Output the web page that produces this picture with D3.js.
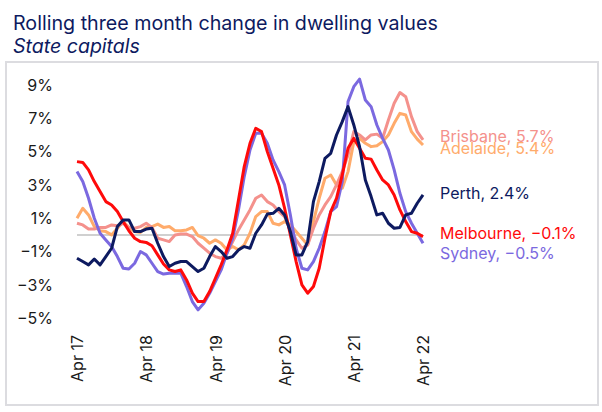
<!DOCTYPE html>
<html>
<head>
<meta charset="utf-8">
<script src="https://cdn.jsdelivr.net/npm/d3@7"></script>
<style>
  html, body { margin: 0; padding: 0; background: #fff; }
  svg { display: block; font-family: Inter, "Open Sans", sans-serif; }
</style>
</head>
<body>
<svg id="chart" width="602" height="412"></svg>
<script>
// Monthly dates Apr 2017 .. Apr 2022 (61 months), index 0..60
const months = d3.range(61);

const sydney = [3.8, 3.2, 2.2, 1.0, 0.1, -0.3, -0.7, -1.3, -2.0, -2.05, -1.7, -1.0, -1.2, -1.7, -2.2, -2.35,
  -2.3, -2.3, -2.3, -3.1, -4.0, -4.5, -4.1, -3.5, -2.8, -2.1, -1.1, -0.2, 1.5, 3.5, 5.1, 6.1,
  6.1, 5.5, 4.5, 3.8, 3.0, 1.2, -0.8, -2.0, -2.1, -1.6, -0.8, 0.2, 1.4, 1.7, 3.2, 8.0,
  8.9, 9.35, 8.1, 7.7, 6.6, 5.8, 5.1, 3.9, 2.5, 1.4, 0.7, 0.1, -0.5];

const melbourne = [4.4, 4.35, 3.9, 3.2, 2.6, 2.0, 1.8, 1.4, 0.8, 0.25, -0.2, -0.4, -0.45, -0.65, -1.2, -1.75,
  -2.1, -2.2, -2.1, -2.7, -3.5, -4.0, -4.0, -3.4, -2.6, -1.8, -0.9, 0.1, 2.1, 4.1, 5.5, 6.4,
  6.2, 5.0, 4.0, 3.0, 1.6, 0.0, -1.6, -3.0, -3.5, -3.1, -2.0, -0.2, 1.4, 2.2, 3.6, 5.2,
  5.8, 5.2, 4.6, 4.55, 3.9, 3.3, 3.0, 2.4, 1.5, 0.8, 0.2, 0.1, -0.1];

const perth = [-1.4, -1.6, -1.8, -1.45, -1.8, -1.3, -0.8, 0.5, 0.9, 0.9, 0.2, 0.2, 0.35, 0.4, -0.5, -1.3,
  -1.9, -1.7, -1.6, -1.6, -1.9, -2.2, -2.0, -1.3, -0.7, -1.0, -1.4, -1.3, -0.9, -0.7, -0.8, 0.1,
  0.6, 1.25, 1.3, 1.6, 1.2, 0.2, -1.2, -1.2, -0.4, 2.0, 3.2, 4.6, 4.9, 6.0, 6.8, 7.7,
  6.6, 5.3, 3.3, 2.3, 1.2, 1.3, 0.7, 0.4, 0.45, 1.2, 1.3, 1.9, 2.4];

const brisbane = [0.7, 0.6, 0.35, 0.35, 0.45, 0.45, 0.6, 0.55, 0.7, 0.45, 0.4, 0.5, 0.7, 0.45, -0.2, -0.3,
  -0.4, 0.0, 0.05, 0.05, -0.1, -0.5, -0.8, -1.1, -1.3, -1.4, -1.1, -0.4, 0.3, 0.9, 1.5, 2.2,
  2.4, 2.0, 1.8, 1.4, 1.1, 0.4, -0.3, -0.8, -0.6, 0.4, 1.2, 1.8, 2.3, 3.0, 3.8, 4.8,
  6.2, 6.0, 5.7, 6.0, 6.05, 5.8, 6.9, 7.9, 8.55, 8.3, 7.1, 6.2, 5.7];

const adelaide = [1.0, 1.6, 1.2, 0.5, 0.25, 0.2, 0.0, 0.4, 0.8, 0.45, 0.2, 0.15, 0.45, 0.5, 0.65, 0.45,
  0.5, 0.25, 0.25, 0.3, 0.45, -0.05, -0.2, -0.5, -0.3, -0.5, -0.9, -0.7, -0.9, -0.6, 0.1, 1.1,
  1.4, 1.4, 0.7, 0.6, 0.8, 0.6, 0.2, -0.2, -0.6, 0.8, 2.2, 3.4, 3.6, 3.0, 2.8, 3.8,
  5.6, 5.8, 5.5, 5.3, 5.35, 5.6, 6.0, 6.7, 7.3, 7.2, 6.2, 5.75, 5.4];

const seriesNames = ["Adelaide", "Brisbane", "Sydney", "Melbourne", "Perth"];
const seriesValues = [adelaide, brisbane, sydney, melbourne, perth];
const seriesColors = ["#FFAB6B", "#F4918C", "#7B69E0", "#FF0A0A", "#0D1A60"];
const labelTexts = ["Adelaide, 5.4%", "Brisbane, 5.7%", "Sydney, \u22120.5%", "Melbourne, \u22120.1%", "Perth, 2.4%"];
const labelY = [148, 136, 253, 233, 193];

const yTicks = [-5, -3, -1, 1, 3, 5, 7, 9];
const xTickIdx = [0, 12, 24, 36, 48, 60];
const xTickLabels = ["Apr 17", "Apr 18", "Apr 19", "Apr 20", "Apr 21", "Apr 22"];

const svg = d3.select("#chart");
const navy = "#0D1A60";

// Title
const title = svg.append("text").attr("x", 13).attr("y", 30)
  .attr("fill", navy).attr("font-size", 20)
  .text("Rolling three month change in dwelling values");
const tw = title.node().getComputedTextLength();
title.attr("font-size", 20 * 425 / tw);
const sub = svg.append("text").attr("x", 13).attr("y", 53)
  .attr("fill", navy).attr("font-size", 20).attr("font-style", "italic")
  .text("State capitals");
const sw = sub.node().getComputedTextLength();
sub.attr("font-size", 20 * 127 / sw);

// Frame
svg.append("rect").attr("x", 6).attr("y", 62).attr("width", 592).attr("height", 343)
  .attr("fill", "none").attr("stroke", "#DCDCE0").attr("stroke-width", 2);

const x = d3.scaleLinear().domain([0, 60]).range([77, 423]);
const y = d3.scaleLinear().domain([-5, 9]).range([318.2, 85]);

// Y axis
const yAxis = svg.append("g").attr("transform", "translate(55,0)")
  .call(d3.axisLeft(y).tickValues(yTicks).tickSize(0).tickPadding(2)
    .tickFormat(d => (d < 0 ? "\u2212" + Math.abs(d) : d) + "%"));
yAxis.select(".domain").remove();
yAxis.selectAll("text").attr("font-size", 16).attr("fill", "#1a1a1a")
  .attr("font-family", "Inter, sans-serif");

// X axis
const xAxis = svg.append("g").attr("transform", "translate(0,331)")
  .call(d3.axisBottom(x).tickValues(xTickIdx).tickSize(0)
    .tickFormat((d, i) => xTickLabels[i]));
xAxis.select(".domain").remove();
xAxis.selectAll("text")
  .attr("transform", "rotate(-90)")
  .attr("x", -4).attr("y", 0).attr("dy", "0.35em")
  .attr("text-anchor", "end")
  .attr("font-size", 16).attr("fill", "#1a1a1a")
  .attr("font-family", "Inter, sans-serif");

// Zero line
svg.append("line").attr("x1", x(0)).attr("x2", x(60))
  .attr("y1", y(0)).attr("y2", y(0))
  .attr("stroke", "#D0D0D0").attr("stroke-width", 2);

// Lines
const line = d3.line().x((d, i) => x(months[i])).y(d => y(d));
seriesValues.forEach((vals, k) => {
  svg.append("path").datum(vals)
    .attr("d", line)
    .attr("fill", "none")
    .attr("stroke", seriesColors[k])
    .attr("stroke-width", 3)
    .attr("stroke-linejoin", "round");
});

// Labels
seriesNames.forEach((n, k) => {
  svg.append("text").attr("x", 440).attr("y", labelY[k]).attr("dy", "0.35em")
    .attr("fill", seriesColors[k]).attr("font-size", 16)
    .text(labelTexts[k]);
});
</script>
</body>
</html>
